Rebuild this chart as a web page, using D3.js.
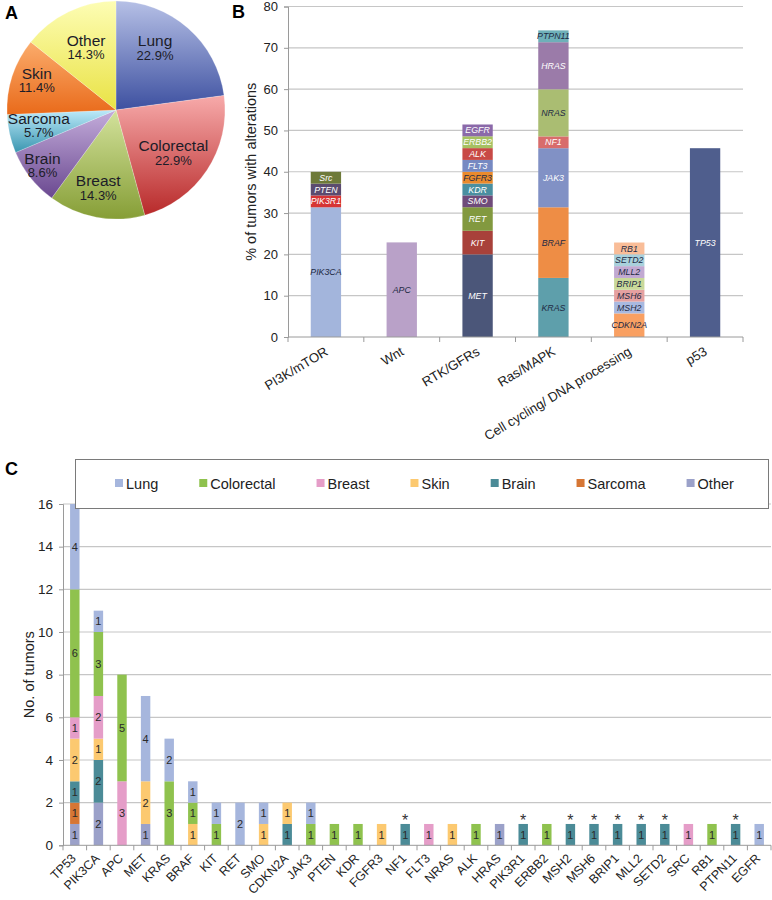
<!DOCTYPE html>
<html><head><meta charset="utf-8">
<script src="https://cdn.jsdelivr.net/npm/d3@7/dist/d3.min.js"></script>
<style>
body{margin:0;background:#fff}
svg{display:block}
text{font-family:"Liberation Sans",Arial,Helvetica,sans-serif}
</style>
</head><body>
<svg id="chart" width="772" height="900"></svg>
<script>
// ---------------- DATA ----------------
// Panel A
const pieCategories = ["Lung","Colorectal","Breast","Brain","Sarcoma","Skin","Other"];
const pieValues = [22.9, 22.9, 14.3, 8.6, 5.7, 11.4, 14.3];

// Panel B
const pathways = ["PI3K/mTOR","Wnt","RTK/GFRs","Ras/MAPK","Cell cycling/ DNA processing","p53"];
const pi3kGenes = ["PIK3CA","PIK3R1","PTEN","Src"];
const pi3kValues = [31.4, 2.86, 2.86, 2.86];
const wntGenes = ["APC"];
const wntValues = [22.9];
const rtkGenes = ["MET","KIT","RET","SMO","KDR","FGFR3","FLT3","ALK","ERBB2","EGFR"];
const rtkValues = [20.0, 5.71, 5.71, 2.86, 2.86, 2.86, 2.86, 2.86, 2.86, 2.86];
const rasGenes = ["KRAS","BRAF","JAK3","NF1","NRAS","HRAS","PTPN11"];
const rasValues = [14.3, 17.1, 14.3, 2.86, 11.4, 11.4, 2.86];
const cellGenes = ["CDKN2A","MSH2","MSH6","BRIP1","MLL2","SETD2","RB1"];
const cellValues = [5.71, 2.86, 2.86, 2.86, 2.86, 2.86, 2.86];
const p53Genes = ["TP53"];
const p53Values = [45.7];
const pathwayTicks = [0,10,20,30,40,50,60,70,80];

// Panel C
const genes = ["TP53","PIK3CA","APC","MET","KRAS","BRAF","KIT","RET","SMO","CDKN2A","JAK3","PTEN","KDR","FGFR3","NF1","FLT3","NRAS","ALK","HRAS","PIK3R1","ERBB2","MSH2","MSH6","BRIP1","MLL2","SETD2","SRC","RB1","PTPN11","EGFR"];
const tumorTypes = ["Lung","Colorectal","Breast","Skin","Brain","Sarcoma","Other"];
const lungCounts       = [4,1,0,4,2,1,1,2,1,0,1,0,0,0,0,0,0,0,0,0,0,0,0,0,0,0,0,0,0,1];
const colorectalCounts = [6,3,5,0,3,1,1,0,0,0,1,1,1,0,0,0,0,1,0,0,1,0,0,0,0,0,0,1,0,0];
const breastCounts     = [1,2,3,0,0,0,0,0,0,0,0,0,0,0,0,1,0,0,0,0,0,0,0,0,0,0,1,0,0,0];
const skinCounts       = [2,1,0,2,0,1,0,0,1,1,0,0,0,1,0,0,1,0,0,0,0,0,0,0,0,0,0,0,0,0];
const brainCounts      = [1,2,0,0,0,0,0,0,0,1,0,0,0,0,1,0,0,0,0,1,0,1,1,1,1,1,0,0,1,0];
const sarcomaCounts    = [1,0,0,0,0,0,0,0,0,0,0,0,0,0,0,0,0,0,0,0,0,0,0,0,0,0,0,0,0,0];
const otherCounts      = [1,2,0,1,0,0,0,0,0,0,0,0,0,0,0,0,0,0,1,0,0,0,0,0,0,0,0,0,0,0];
const starredGenes = ["NF1","PIK3R1","MSH2","MSH6","BRIP1","MLL2","SETD2","PTPN11"];
const countTicks = [0,2,4,6,8,10,12,14,16];

// ---------------- STYLE ----------------
const FONT = '"Liberation Sans",Arial,Helvetica,sans-serif';
const svg = d3.select("#chart");
svg.append("rect").attr("width",772).attr("height",900).attr("fill","#fff");
const defs = svg.append("defs");

// ================= PANEL A =================
const pieGrad = {
  Lung:["#b6c0e6","#3d50a0"], Colorectal:["#f7aaaa","#b82a2a"], Breast:["#d3e29c","#869e36"],
  Brain:["#c4addb","#6a4890"], Sarcoma:["#bdeafa","#3a96b0"], Skin:["#fbac6c","#e96a1a"],
  Other:["#fdfdb4","#e9e244"]
};
pieCategories.forEach((c,i)=>{
  const g = defs.append("linearGradient").attr("id","pg"+i)
    .attr("x1",0).attr("y1",0).attr("x2",0).attr("y2",1);
  g.append("stop").attr("offset","0%").attr("stop-color",pieGrad[c][0]);
  g.append("stop").attr("offset","100%").attr("stop-color",pieGrad[c][1]);
});
const pieR = 109;
const pieG = svg.append("g").attr("transform","translate(116,110)");
const pieGen = d3.pie().sort(null).value(d=>d);
const arcs = pieGen(pieValues);
const arcGen = d3.arc().innerRadius(0).outerRadius(pieR);
pieG.selectAll("path.slice").data(arcs).join("path").attr("class","slice")
  .attr("d",arcGen).attr("fill",(d,i)=>"url(#pg"+i+")")
  .attr("stroke","#ffffff").attr("stroke-opacity",0.35).attr("stroke-width",0.6);
const labelArc = d3.arc().innerRadius(76).outerRadius(76);
const pieNudge = {Lung:[-11,-5],Colorectal:[-6,1],Breast:[-4,3],Brain:[-14,8],Sarcoma:[-3,-1],Skin:[-7,-6],Other:[3,6]};
arcs.forEach((d,i)=>{
  const c = pieCategories[i];
  const p = labelArc.centroid(d);
  const x = p[0]+pieNudge[c][0], y = p[1]+pieNudge[c][1];
  pieG.append("text").attr("x",x).attr("y",y-1.5).attr("text-anchor","middle")
    .attr("font-size",15.5).attr("fill","#1c1c28").text(c);
  pieG.append("text").attr("x",x).attr("y",y+11.8).attr("text-anchor","middle")
    .attr("font-size",13).attr("fill","#1c1c28").text(d3.format(".1f")(pieValues[i])+"%");
});
svg.append("text").attr("x",5).attr("y",19).attr("font-size",18).attr("font-weight","bold").text("A");

// ================= PANEL B =================
const geneStyle = {
  PIK3CA:["#a3b5dc","#1e2a44"], PIK3R1:["#d63535","#fff"], PTEN:["#5b4b6f","#fff"], Src:["#6e7a3a","#fff"],
  APC:["#b9a1c8","#1e2a44"],
  MET:["#4b5679","#fff"], KIT:["#a8413a","#fff"], RET:["#82993f","#fff"], SMO:["#6f4b7a","#fff"],
  KDR:["#4a8fa0","#fff"], FGFR3:["#ea8a2c","#1e2a44"], FLT3:["#7689c2","#fff"], ALK:["#c84a46","#fff"],
  ERBB2:["#a6c162","#fff"], EGFR:["#8b69a9","#fff"],
  KRAS:["#5e9fab","#1e2a44"], BRAF:["#ee8d45","#1e2a44"], JAK3:["#8191c5","#fff"], NF1:["#d86c6b","#fff"],
  NRAS:["#aabd72","#1e2a44"], HRAS:["#9b7ba9","#fff"], PTPN11:["#6fb0b9","#1e2a44"],
  CDKN2A:["#f9a062","#1e2a44"], MSH2:["#a9b9e0","#1e2a44"], MSH6:["#e5a1a1","#1e2a44"],
  BRIP1:["#c9d99a","#1e2a44"], MLL2:["#c1a9d2","#1e2a44"], SETD2:["#a9d1dc","#1e2a44"], RB1:["#f9bd98","#1e2a44"],
  TP53:["#4f5e8d","#fff"]
};
const pathwayGenes = [pi3kGenes,wntGenes,rtkGenes,rasGenes,cellGenes,p53Genes];
const pathwayValues = [pi3kValues,wntValues,rtkValues,rasValues,cellValues,p53Values];

const bX = d3.scaleBand().domain(pathways).range([288,743]).paddingInner(0).paddingOuter(0);
const bY = d3.scaleLinear().domain([0,80]).range([337,6.5]);
const bG = svg.append("g");
bG.selectAll("line.grid").data(pathwayTicks.filter(t=>t>0)).join("line")
  .attr("x1",288).attr("x2",743).attr("y1",d=>bY(d)).attr("y2",d=>bY(d))
  .attr("stroke","#c6c6c6").attr("stroke-width",1.2);
const bYAxis = d3.axisLeft(bY).tickValues(pathwayTicks).tickSize(4).tickPadding(6);
const bya = bG.append("g").attr("transform","translate(288,0)").call(bYAxis);
bya.select(".domain").attr("stroke","#9a9a9a");
bya.selectAll(".tick line").attr("stroke","#9a9a9a");
bya.selectAll("text").attr("font-size",13).attr("fill","#222").attr("font-family",FONT);
pathways.forEach((pw,pi)=>{
  let cum = 0;
  const bw = bX.bandwidth()*0.4;
  const x0 = bX(pw)+bX.bandwidth()/2-bw/2;
  pathwayGenes[pi].forEach((g,gi)=>{
    const v = pathwayValues[pi][gi];
    const y1 = bY(cum+v), y0 = bY(cum);
    bG.append("rect").attr("x",x0).attr("width",bw).attr("y",y1).attr("height",y0-y1)
      .attr("fill",geneStyle[g][0]);
    bG.append("text").attr("x",x0+bw/2).attr("y",(y0+y1)/2).attr("dy","0.35em")
      .attr("text-anchor","middle").attr("font-size",8.8).attr("font-style","italic")
      .attr("fill",geneStyle[g][1]).text(g);
    cum += v;
  });
});
bG.append("line").attr("x1",288).attr("x2",743).attr("y1",bY(0)).attr("y2",bY(0)).attr("stroke","#9a9a9a");
const bBounds = pathways.map(p=>bX(p)).concat([743]);
bG.selectAll("line.xt").data(bBounds).join("line").attr("x1",d=>d).attr("x2",d=>d)
  .attr("y1",bY(0)).attr("y2",bY(0)+5).attr("stroke","#9a9a9a");
pathways.forEach(p=>{
  const cx = bX(p)+bX.bandwidth()/2;
  bG.append("text").attr("transform",`translate(${cx+3},${354}) rotate(-31)`)
    .attr("text-anchor","end").attr("font-size",13.2).attr("fill","#222").text(p);
});
bG.append("text").attr("transform",`translate(256,${bY(40)}) rotate(-90)`).attr("text-anchor","middle")
  .attr("font-size",14.5).attr("fill","#222").text("% of tumors with alterations");
svg.append("text").attr("x",232).attr("y",18).attr("font-size",18).attr("font-weight","bold").text("B");

// ================= PANEL C =================
const typeColor = {Lung:"#a6b6dd", Colorectal:"#8fc24e", Breast:"#e59dc8", Skin:"#fcc970",
  Brain:"#4b8b97", Sarcoma:"#d67634", Other:"#9ba1c9"};
const countsByType = {Lung:lungCounts, Colorectal:colorectalCounts, Breast:breastCounts, Skin:skinCounts,
  Brain:brainCounts, Sarcoma:sarcomaCounts, Other:otherCounts};
const table = genes.map((g,i)=>{
  const row = {gene:g};
  tumorTypes.forEach(t=>row[t]=countsByType[t][i]);
  return row;
});
const stackKeys = tumorTypes.slice().reverse(); // Other at bottom, Lung on top
const series = d3.stack().keys(stackKeys)(table);

const cX = d3.scaleBand().domain(genes).range([63,771]);
const cY = d3.scaleLinear().domain([0,16]).range([845.3,504]);
const cG = svg.append("g");
cG.selectAll("line.grid").data(countTicks.filter(t=>t>0)).join("line")
  .attr("x1",63).attr("x2",771).attr("y1",d=>cY(d)).attr("y2",d=>cY(d))
  .attr("stroke","#c6c6c6").attr("stroke-width",1.2);
const cya = cG.append("g").attr("transform","translate(63,0)")
  .call(d3.axisLeft(cY).tickValues(countTicks).tickSize(4).tickPadding(6));
cya.select(".domain").attr("stroke","#9a9a9a");
cya.selectAll(".tick line").attr("stroke","#9a9a9a");
cya.selectAll("text").attr("font-size",13.5).attr("fill","#222").attr("font-family",FONT);

const cbw = cX.bandwidth()*0.4;
series.forEach(s=>{
  const key = s.key;
  s.forEach((d,i)=>{
    const v = d[1]-d[0];
    if(v<=0) return;
    const g = genes[i];
    const x0 = cX(g)+cX.bandwidth()/2-cbw/2;
    cG.append("rect").attr("x",x0).attr("width",cbw).attr("y",cY(d[1])).attr("height",cY(d[0])-cY(d[1]))
      .attr("fill",typeColor[key]);
    cG.append("text").attr("x",x0+cbw/2).attr("y",(cY(d[0])+cY(d[1]))/2).attr("dy","0.36em")
      .attr("text-anchor","middle").attr("font-size",11).attr("fill","#2a2a2a").text(v);
  });
});
genes.forEach((g,i)=>{
  if(!starredGenes.includes(g)) return;
  const tot = tumorTypes.reduce((a,t)=>a+countsByType[t][i],0);
  cG.append("text").attr("x",cX(g)+cX.bandwidth()/2).attr("y",cY(tot)+2)
    .attr("text-anchor","middle").attr("font-size",16).attr("fill","#333").text("*");
});
cG.append("line").attr("x1",63).attr("x2",771).attr("y1",cY(0)).attr("y2",cY(0)).attr("stroke","#9a9a9a");
const cBounds = genes.map(g=>cX(g)).concat([771]);
cG.selectAll("line.xt").data(cBounds).join("line").attr("x1",d=>d).attr("x2",d=>d)
  .attr("y1",cY(0)).attr("y2",cY(0)+5).attr("stroke","#9a9a9a");
genes.forEach(g=>{
  const cx = cX(g)+cX.bandwidth()/2;
  cG.append("text").attr("transform",`translate(${cx+2},${859}) rotate(-45)`)
    .attr("text-anchor","end").attr("font-size",12.5).attr("fill","#222").text(g);
});
cG.append("text").attr("transform",`translate(34,${cY(8)}) rotate(-90)`).attr("text-anchor","middle")
  .attr("font-size",14.5).attr("fill","#222").text("No. of tumors");

const lg = svg.append("g");
lg.append("rect").attr("x",75.5).attr("y",459.5).attr("width",693).attr("height",49)
  .attr("fill","#fff").attr("stroke","#7a7a7a").attr("stroke-width",1);
let lx = 115;
tumorTypes.forEach(t=>{
  lg.append("rect").attr("x",lx).attr("y",479).attr("width",8).attr("height",8).attr("fill",typeColor[t]);
  const tx = lg.append("text").attr("x",lx+11).attr("y",488.5).attr("font-size",14.5).attr("fill","#222").text(t);
  lx += 11 + tx.node().getComputedTextLength() + 41;
});
svg.append("text").attr("x",5).attr("y",475).attr("font-size",18).attr("font-weight","bold").text("C");
</script>
</body></html>
